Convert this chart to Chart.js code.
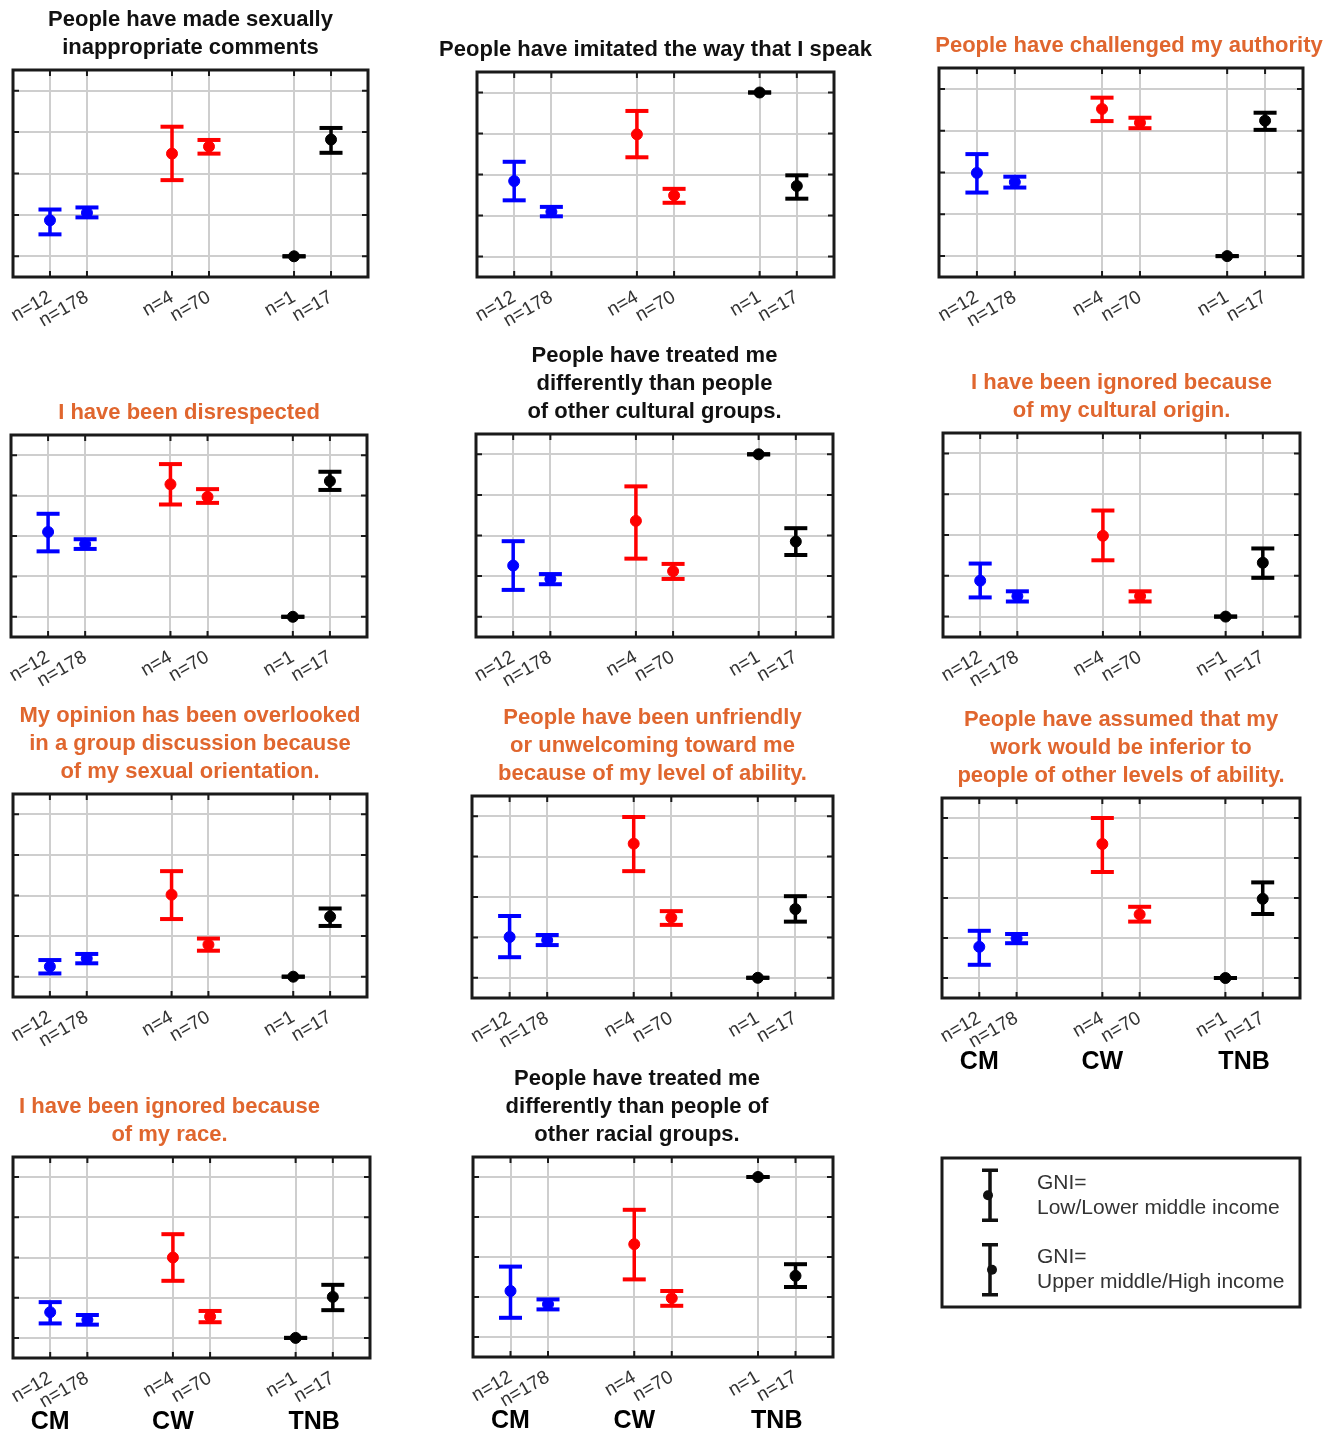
<!DOCTYPE html>
<html>
<head>
<meta charset="utf-8">
<script src="https://cdn.jsdelivr.net/npm/chart.js@4.4.1/dist/chart.umd.min.js"></script>
<style>
  html, body { margin: 0; padding: 0; background: #fff; overflow: hidden; }
  body { width: 1330px; height: 1435px; position: relative; }
  canvas { position: absolute; }
</style>
</head>
<body>
<script>
// categories / labels
const titles = [
  ['People have made sexually', 'inappropriate comments'],
  ['People have imitated the way that I speak'],
  ['People have challenged my authority'],
  ['I have been disrespected'],
  ['People have treated me', 'differently than people', 'of other cultural groups.'],
  ['I have been ignored because', 'of my cultural origin.'],
  ['My opinion has been overlooked', 'in a group discussion because', 'of my sexual orientation.'],
  ['People have been unfriendly', 'or unwelcoming toward me', 'because of my level of ability.'],
  ['People have assumed that my', 'work would be inferior to', 'people of other levels of ability.'],
  ['I have been ignored because', 'of my race.'],
  ['People have treated me', 'differently than people of', 'other racial groups.']
];
const titleOrange = [false, false, true, true, false, true, true, true, true, true, false];
const nLabels = ['n=12', 'n=178', 'n=4', 'n=70', 'n=1', 'n=17'];
const xPos = [1, 2, 4.3, 5.3, 7.6, 8.6];
const groupOf = [0, 0, 1, 1, 2, 2];
const groupNames = ['CM', 'CW', 'TNB'];
const groupNameAt = [1, 4.3, 8.1];
const groupColors = ['#0000ff', '#ff0000', '#000000'];
const legendLabels = [['GNI=', 'Low/Lower middle income'], ['GNI=', 'Upper middle/High income']];

// series values, one row per panel, one column per n= label
const means = [
  [1.87, 2.05, 3.48, 3.65, 1.0, 3.82],
  [2.84, 2.09, 3.98, 2.49, 5.0, 2.72],
  [2.99, 2.77, 4.52, 4.19, 1.0, 4.24],
  [3.10, 2.80, 4.28, 3.97, 1.0, 4.36],
  [2.26, 1.93, 3.36, 2.12, 5.0, 2.85],
  [1.88, 1.50, 2.98, 1.50, 1.0, 2.32],
  [1.25, 1.45, 3.02, 1.79, 1.0, 2.48],
  [2.01, 1.93, 4.32, 2.49, 1.0, 2.70],
  [1.78, 1.99, 4.35, 2.59, 1.0, 2.98],
  [1.64, 1.45, 3.00, 1.53, 1.0, 2.02],
  [2.15, 1.82, 3.32, 1.97, 5.0, 2.53]
];
const lows = [
  [1.53, 1.94, 2.84, 3.48, 1.0, 3.50],
  [2.37, 1.98, 3.42, 2.31, 5.0, 2.41],
  [2.52, 2.64, 4.23, 4.06, 1.0, 4.02],
  [2.62, 2.68, 3.78, 3.82, 1.0, 4.14],
  [1.66, 1.80, 2.43, 1.93, 5.0, 2.52],
  [1.47, 1.37, 2.38, 1.37, 1.0, 1.95],
  [1.08, 1.33, 2.42, 1.64, 1.0, 2.25],
  [1.51, 1.81, 3.64, 2.31, 1.0, 2.39],
  [1.33, 1.87, 3.65, 2.41, 1.0, 2.60],
  [1.36, 1.33, 2.42, 1.39, 1.0, 1.69],
  [1.48, 1.69, 2.44, 1.78, 5.0, 2.25]
];
const highs = [
  [2.13, 2.18, 4.13, 3.81, 1.0, 4.10],
  [3.31, 2.21, 4.55, 2.65, 5.0, 2.98],
  [3.44, 2.90, 4.79, 4.31, 1.0, 4.43],
  [3.55, 2.92, 4.78, 4.16, 1.0, 4.59],
  [2.86, 2.05, 4.21, 2.30, 5.0, 3.18],
  [2.30, 1.62, 3.60, 1.62, 1.0, 2.67],
  [1.41, 1.56, 3.60, 1.94, 1.0, 2.68],
  [2.53, 2.06, 4.98, 2.65, 1.0, 3.02],
  [2.18, 2.10, 5.00, 2.78, 1.0, 3.39],
  [1.89, 1.57, 3.58, 1.67, 1.0, 2.32],
  [2.76, 1.94, 4.18, 2.15, 5.0, 2.82]
];

// layout: plot frame of each panel [left, top, right, bottom]
const frames = [
  [13, 70, 368, 277], [477, 72, 834, 277], [939, 68, 1303, 277],
  [11, 435, 367, 637], [476, 434, 833, 637], [943, 433, 1300, 637],
  [13, 794, 367, 997], [472, 796, 833, 998], [942, 798, 1300, 998],
  [13, 1157, 370, 1358], [473, 1157, 833, 1357]
];
// how far each title sits left of its frame centre (negative = right)
const titleShift = [0, 0, -8, 0, 0, 0, 0, 0, 0, 22, 16];
const withGroups = [8, 9, 10];
const legendFrame = [942, 1158, 1300, 1307];

const FONT = "'Liberation Sans', Arial, Helvetica, sans-serif";
Chart.defaults.font.family = FONT;

const gridColor = '#cecece';

// box + inward ticks, and the CM / CW / TNB labels under the bottom panels
const framePlugin = {
  id: 'frame',
  beforeDatasetsDraw(chart) {
    const { ctx, chartArea: a, scales } = chart;
    ctx.save();
    ctx.strokeStyle = '#1a1a1a';
    ctx.lineWidth = 2;
    ctx.beginPath();
    scales.x.ticks.forEach(t => {
      const px = scales.x.getPixelForValue(t.value);
      ctx.moveTo(px, a.top); ctx.lineTo(px, a.top + 6);
      ctx.moveTo(px, a.bottom); ctx.lineTo(px, a.bottom - 6);
    });
    scales.y.ticks.forEach(t => {
      const py = scales.y.getPixelForValue(t.value);
      ctx.moveTo(a.left, py); ctx.lineTo(a.left + 6, py);
      ctx.moveTo(a.right, py); ctx.lineTo(a.right - 6, py);
    });
    ctx.stroke();
    ctx.lineWidth = 3;
    ctx.strokeRect(a.left, a.top, a.width, a.height);
    ctx.restore();
  },
  afterDraw(chart, args, opts) {
    if (!opts.groups) return;
    const { ctx, chartArea: a, scales } = chart;
    ctx.save();
    ctx.fillStyle = '#000';
    ctx.font = 'bold 25px ' + FONT;
    ctx.textAlign = 'center';
    ctx.textBaseline = 'middle';
    groupNames.forEach((name, g) => {
      ctx.fillText(name, scales.x.getPixelForValue(groupNameAt[g]), a.bottom + 64);
    });
    ctx.restore();
  }
};

function buildDatasets(p) {
  const sets = [];
  groupColors.forEach((color, g) => {
    const idx = xPos.map((x, i) => i).filter(i => groupOf[i] === g);
    const stems = [];
    idx.forEach(i => {
      stems.push({ x: xPos[i], y: lows[p][i] }, { x: xPos[i], y: highs[p][i] }, { x: xPos[i], y: null });
    });
    sets.push({
      type: 'line', data: stems, borderColor: color, borderWidth: 3.5,
      pointRadius: 0, spanGaps: false, fill: false
    });
    sets.push({
      type: 'scatter',
      data: idx.flatMap(i => [{ x: xPos[i], y: lows[p][i] }, { x: xPos[i], y: highs[p][i] }]),
      pointStyle: 'line', pointRadius: 11.5, borderColor: color, borderWidth: 4
    });
    sets.push({
      type: 'scatter',
      data: idx.map(i => ({ x: xPos[i], y: means[p][i] })),
      pointStyle: 'circle', pointRadius: 5.5, backgroundColor: color, borderColor: color, borderWidth: 1
    });
  });
  return sets;
}

function makePanel(p) {
  const [fl, ft, fr, fb] = frames[p];
  const s = titleShift[p];
  // side margins are empty axes, so the full-width title box can overhang the frame
  const mL = 50 + Math.max(0, 2 * s);
  const mR = 50 + Math.max(0, -2 * s);
  const padB = withGroups.includes(p) ? 34 : 4;
  const titleH = titles[p].length * 28 + 8;
  const axisH = 64;
  const w = (fr - fl) + mL + mR;
  const h = titleH + (fb - ft) + axisH + padB;

  const canvas = document.createElement('canvas');
  canvas.width = w; canvas.height = h;
  canvas.style.width = w + 'px'; canvas.style.height = h + 'px';
  canvas.style.left = (fl - mL) + 'px';
  canvas.style.top = (ft - titleH) + 'px';
  document.body.appendChild(canvas);

  new Chart(canvas, {
    type: 'scatter',
    data: { datasets: buildDatasets(p) },
    options: {
      responsive: false,
      animation: false,
      events: [],
      layout: { padding: { left: 0, right: 0, top: 0, bottom: padB } },
      plugins: {
        legend: { display: false },
        tooltip: { enabled: false },
        title: {
          display: true,
          text: titles[p],
          color: titleOrange[p] ? '#e0662e' : '#111',
          font: { size: 22, weight: 'bold', lineHeight: '28px' },
          padding: { top: 0, bottom: 8 }
        },
        frame: { groups: withGroups.includes(p) }
      },
      scales: {
        x: {
          type: 'linear', min: 0, max: 9.6,
          afterBuildTicks: sc => { sc.ticks = xPos.map(v => ({ value: v })); },
          afterFit: sc => { sc.height = axisH; },
          grid: { color: gridColor, lineWidth: 2, drawTicks: false },
          border: { display: false },
          ticks: {
            autoSkip: false, minRotation: 30, maxRotation: 30, padding: 9,
            color: '#333', font: { size: 19 },
            callback: (v, i) => nLabels[i]
          }
        },
        y: {
          type: 'linear', min: 0.5, max: 5.5,
          afterBuildTicks: sc => { sc.ticks = [1, 2, 3, 4, 5].map(v => ({ value: v })); },
          afterFit: sc => { sc.width = mL; },
          grid: { color: gridColor, lineWidth: 2, drawTicks: false },
          border: { display: false },
          ticks: { display: false }
        },
        yRight: {
          type: 'linear', position: 'right',
          afterFit: sc => { sc.width = mR; },
          grid: { display: false, drawTicks: false },
          border: { display: false },
          ticks: { display: false }
        }
      }
    },
    plugins: [framePlugin]
  });
}

for (let p = 0; p < titles.length; p++) makePanel(p);

// legend box
const legendPlugin = {
  id: 'gniLegend',
  afterDraw(chart) {
    const { ctx, chartArea: a } = chart;
    ctx.save();
    ctx.strokeStyle = '#1a1a1a';
    ctx.lineWidth = 3;
    ctx.strokeRect(a.left, a.top, a.width, a.height);
    const rowH = a.height / legendLabels.length;
    legendLabels.forEach((lines, i) => {
      const cy = a.top + rowH * (i + 0.5);
      const sx = a.left + 48;
      ctx.strokeStyle = '#111';
      ctx.lineWidth = 3.5;
      ctx.beginPath();
      ctx.moveTo(sx, cy - 25); ctx.lineTo(sx, cy + 25);
      ctx.moveTo(sx - 8, cy - 25); ctx.lineTo(sx + 8, cy - 25);
      ctx.moveTo(sx - 8, cy + 25); ctx.lineTo(sx + 8, cy + 25);
      ctx.stroke();
      ctx.fillStyle = '#111';
      ctx.beginPath();
      ctx.arc(sx + (i === 0 ? -2 : 2), cy, 5, 0, Math.PI * 2);
      ctx.fill();
      ctx.fillStyle = '#333';
      ctx.font = '21px ' + FONT;
      ctx.textAlign = 'left';
      ctx.textBaseline = 'middle';
      lines.forEach((t, k) => ctx.fillText(t, a.left + 95, cy + (k - 0.5) * 25));
    });
    ctx.restore();
  }
};

(function makeLegend() {
  const [l, t, r, b] = legendFrame;
  const pad = 6;
  const canvas = document.createElement('canvas');
  const w = r - l + 2 * pad, h = b - t + 2 * pad;
  canvas.width = w; canvas.height = h;
  canvas.style.width = w + 'px'; canvas.style.height = h + 'px';
  canvas.style.left = (l - pad) + 'px';
  canvas.style.top = (t - pad) + 'px';
  document.body.appendChild(canvas);
  new Chart(canvas, {
    type: 'scatter',
    data: { datasets: [] },
    options: {
      responsive: false, animation: false, events: [],
      layout: { padding: pad },
      plugins: { legend: { display: false }, tooltip: { enabled: false } },
      scales: { x: { display: false }, y: { display: false } }
    },
    plugins: [legendPlugin]
  });
})();
</script>
</body>
</html>
